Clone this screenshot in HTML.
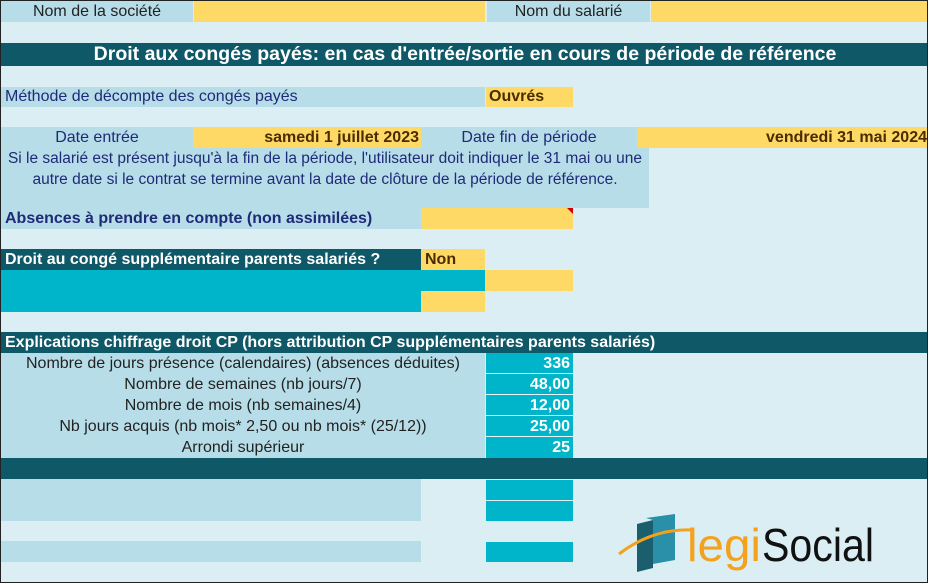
<!DOCTYPE html>
<html><head><meta charset="utf-8"><style>
body{margin:0;}
#p{position:relative;width:926px;height:581px;border:1px solid #222;background:#daeef3;overflow:hidden;font-family:"Liberation Sans Narrow","Liberation Sans",sans-serif;font-size:16px;}
#p div{position:absolute;box-sizing:border-box;line-height:21px;white-space:nowrap;}
.lb{background:#b7dde8;}
.y{background:#ffd966;}
.d{background:#0f5867;color:#fff;font-weight:bold;}
.c{background:#00b5c9;}
.n{color:#1f2a78;}
.b{font-weight:bold;}
.br{color:#4a2c00;font-weight:bold;}
.num{color:#fff;font-weight:bold;text-align:right;padding-right:3px;border-bottom:1px solid #e8f6fa;}
</style></head><body><div id="p">
<div class="lb" style="left:0;top:0;width:192px;height:21px;text-align:center;color:#222">Nom de la société</div>
<div class="y" style="left:193px;top:0;width:291px;height:21px"></div>
<div class="lb" style="left:486px;top:0;width:163px;height:21px;text-align:center;color:#222">Nom du salarié</div>
<div class="y" style="left:650px;top:0;width:278px;height:21px"></div>
<div class="d" style="left:0;top:42px;width:928px;height:23px;line-height:23px;text-align:center;font-size:19.5px">Droit aux congés payés: en cas d'entrée/sortie en cours de période de référence</div>
<div class="lb n" style="left:0;top:86px;width:484px;height:20px;line-height:20px;padding-left:4px">Méthode de décompte des congés payés</div>
<div class="y br" style="left:485px;top:86px;width:87px;height:20px;line-height:20px;padding-left:3px">Ouvrés</div>
<div class="lb n" style="left:0;top:126px;width:192px;height:21px;text-align:center">Date entrée</div>
<div class="y br" style="left:192px;top:126px;width:228px;height:21px;text-align:right;padding-right:2px">samedi 1 juillet 2023</div>
<div class="lb n" style="left:420px;top:126px;width:216px;height:21px;text-align:center">Date fin de période</div>
<div class="y br" style="left:636px;top:126px;width:292px;height:21px;text-align:right;padding-right:2px">vendredi 31 mai 2024</div>
<div class="lb n" style="left:0;top:147px;width:648px;height:60px;text-align:center;font-size:15.5px;line-height:21px">Si le salarié est présent jusqu'à la fin de la période, l'utilisateur doit indiquer le 31 mai ou une<br>autre date si le contrat se termine avant la date de clôture de la période de référence.</div>
<div class="lb n b" style="left:0;top:207px;width:420px;height:21px;padding-left:4px">Absences à prendre en compte (non assimilées)</div>
<div class="y" style="left:420px;top:207px;width:152px;height:21px"></div>
<div style="left:566px;top:207px;width:0;height:0;border-left:6px solid transparent;border-top:6px solid #d00000"></div>
<div class="d" style="left:0;top:248px;width:420px;height:21px;padding-left:4px">Droit au congé supplémentaire parents salariés ?</div>
<div class="y br" style="left:420px;top:248px;width:64px;height:21px;padding-left:4px">Non</div>
<div class="c" style="left:0;top:269px;width:484px;height:21px"></div>
<div class="y" style="left:484px;top:269px;width:88px;height:21px"></div>
<div class="c" style="left:0;top:290px;width:420px;height:21px"></div>
<div class="y" style="left:420px;top:290px;width:64px;height:21px"></div>
<div class="d" style="left:0;top:331px;width:928px;height:21px;padding-left:4px">Explications chiffrage droit CP (hors attribution CP supplémentaires parents salariés)</div>
<div class="lb" style="left:0;top:352px;width:484px;height:105px"></div>
<div style="left:0;top:352px;width:484px;text-align:center;color:#222;line-height:21px">Nombre de jours présence (calendaires) (absences déduites)<br>Nombre de semaines (nb jours/7)<br>Nombre de mois (nb semaines/4)<br>Nb jours acquis (nb mois* 2,50 ou nb mois* (25/12))<br>Arrondi supérieur</div>
<div class="c num" style="left:485px;top:352px;width:87px;height:21px">336</div>
<div class="c num" style="left:485px;top:373px;width:87px;height:21px">48,00</div>
<div class="c num" style="left:485px;top:394px;width:87px;height:21px">12,00</div>
<div class="c num" style="left:485px;top:415px;width:87px;height:21px">25,00</div>
<div class="c num" style="left:485px;top:436px;width:87px;height:21px;border-bottom:0">25</div>
<div class="d" style="left:0;top:457px;width:928px;height:21px"></div>
<div class="lb" style="left:0;top:478px;width:420px;height:42px"></div>
<div class="c" style="left:485px;top:479px;width:87px;height:20px"></div>
<div class="c" style="left:485px;top:500px;width:87px;height:20px"></div>
<div class="lb" style="left:0;top:540px;width:420px;height:21px"></div>
<div class="c" style="left:485px;top:541px;width:87px;height:20px"></div>
<svg style="position:absolute;left:612px;top:505px" width="270" height="75" viewBox="0 0 270 75">
<path d="M24 18 L40 14 L40 62 L24 66 Z" fill="#1b5e6e"/>
<path d="M33 12 L62 8 L62 54 L40 58 L40 14 Z" fill="#2a8fa8"/>
<path d="M6 48 Q40 22 80 24" stroke="#f4a21d" stroke-width="3" fill="none"/>
<text x="74" y="55" font-family="Liberation Sans, sans-serif" font-size="46" fill="#f4a21d" textLength="74" lengthAdjust="spacingAndGlyphs">legi</text>
<text x="149" y="55" font-family="Liberation Sans, sans-serif" font-size="46" fill="#111" textLength="112" lengthAdjust="spacingAndGlyphs">Social</text>
</svg>
</div></body></html>
